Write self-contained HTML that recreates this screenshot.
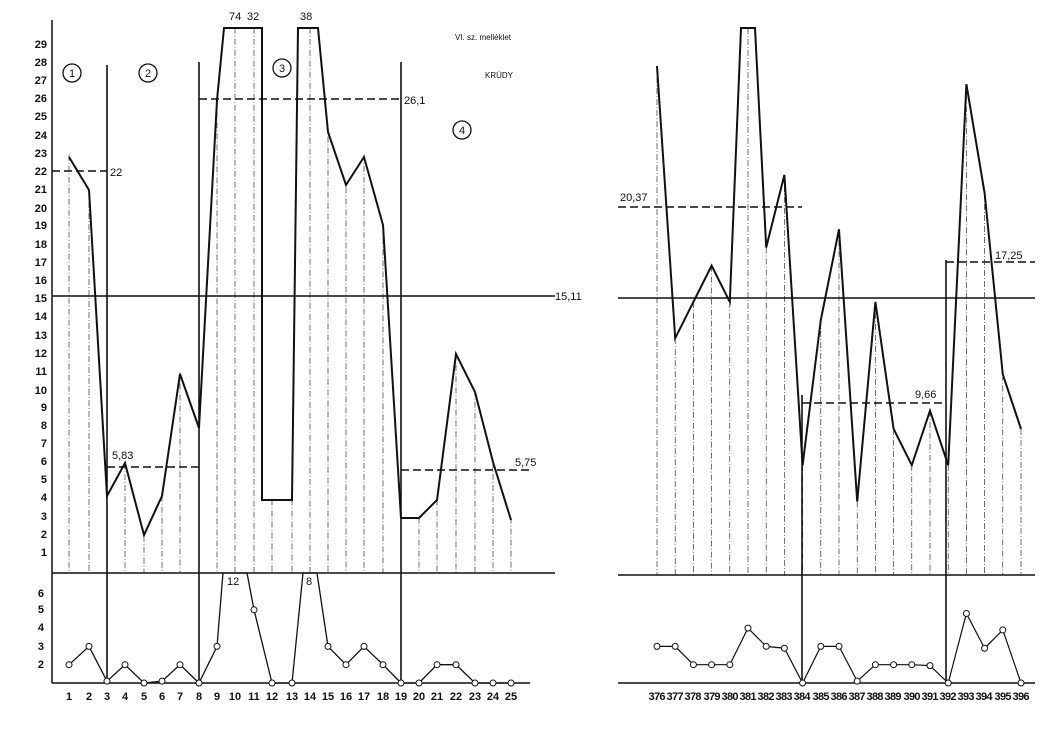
<!DOCTYPE html><html><head><meta charset="utf-8"><style>
body{margin:0;background:#fff;width:1064px;height:726px;overflow:hidden}
svg text{font-family:"Liberation Sans",sans-serif;font-size:11px;fill:#111}
</style></head><body>
<svg id="s" width="1064" height="726" xmlns="http://www.w3.org/2000/svg">
<g font-weight="bold" text-anchor="end">
<text x="47" y="556">1</text><text x="47" y="538">2</text><text x="47" y="520">3</text><text x="47" y="501">4</text><text x="47" y="483">5</text><text x="47" y="465">6</text><text x="47" y="447">7</text><text x="47" y="429">8</text><text x="47" y="411">9</text><text x="47" y="394">10</text><text x="47" y="375">11</text><text x="47" y="357">12</text><text x="47" y="339">13</text><text x="47" y="320">14</text><text x="47" y="302">15</text><text x="47" y="284">16</text><text x="47" y="266">17</text><text x="47" y="248">18</text><text x="47" y="229">19</text><text x="47" y="212">20</text><text x="47" y="193">21</text><text x="47" y="175">22</text><text x="47" y="157">23</text><text x="47" y="139">24</text><text x="47" y="120">25</text><text x="47" y="102">26</text><text x="47" y="84">27</text><text x="47" y="66">28</text><text x="47" y="48">29</text>
<text x="44" y="668">2</text><text x="44" y="650">3</text><text x="44" y="631">4</text><text x="44" y="613">5</text><text x="44" y="597">6</text>
</g>
<g text-anchor="middle" font-weight="bold">
<text x="69" y="700">1</text><text x="89" y="700">2</text><text x="107" y="700">3</text><text x="125" y="700">4</text><text x="144" y="700">5</text><text x="162" y="700">6</text><text x="180" y="700">7</text><text x="199" y="700">8</text><text x="217" y="700">9</text><text x="235" y="700">10</text><text x="254" y="700">11</text><text x="272" y="700">12</text><text x="292" y="700">13</text><text x="310" y="700">14</text><text x="328" y="700">15</text><text x="346" y="700">16</text><text x="364" y="700">17</text><text x="383" y="700">18</text><text x="401" y="700">19</text><text x="419" y="700">20</text><text x="437" y="700">21</text><text x="456" y="700">22</text><text x="475" y="700">23</text><text x="493" y="700">24</text><text x="511" y="700">25</text>
</g>
<g text-anchor="middle" style="font-size:10px" font-weight="bold">
<text x="657" y="700" textLength="17">376</text><text x="675" y="700" textLength="17">377</text><text x="693" y="700" textLength="17">378</text><text x="712" y="700" textLength="17">379</text><text x="730" y="700" textLength="17">380</text><text x="748" y="700" textLength="17">381</text><text x="766" y="700" textLength="17">382</text><text x="784" y="700" textLength="17">383</text><text x="802" y="700" textLength="17">384</text><text x="821" y="700" textLength="17">385</text><text x="839" y="700" textLength="17">386</text><text x="857" y="700" textLength="17">387</text><text x="875" y="700" textLength="17">388</text><text x="893" y="700" textLength="17">389</text><text x="912" y="700" textLength="17">390</text><text x="930" y="700" textLength="17">391</text><text x="948" y="700" textLength="17">392</text><text x="966" y="700" textLength="17">393</text><text x="984" y="700" textLength="17">394</text><text x="1003" y="700" textLength="17">395</text><text x="1021" y="700" textLength="17">396</text>
</g>
<text x="110" y="176">22</text><text x="112" y="459">5,83</text><text x="404" y="104">26,1</text><text x="515" y="466">5,75</text>
<text x="555" y="300">15,11</text>
<text x="229" y="20">74</text><text x="247" y="20">32</text><text x="300" y="20">38</text>
<text x="227" y="585">12</text><text x="306" y="585">8</text>
<text x="620" y="201">20,37</text><text x="915" y="398">9,66</text><text x="995" y="259">17,25</text>
<text x="455" y="40" style="font-size:8px">VI. sz. melléklet</text>
<text x="485" y="78" style="font-size:8px">KRÚDY</text>
<g fill="none" stroke="#111" stroke-width="1.3">
<circle cx="72" cy="73" r="9"/><circle cx="148" cy="73" r="9"/><circle cx="282" cy="68" r="9"/><circle cx="462" cy="130" r="9"/></g>
<text x="72" y="77" text-anchor="middle">1</text><text x="148" y="77" text-anchor="middle">2</text><text x="282" y="72" text-anchor="middle">3</text><text x="462" y="134" text-anchor="middle">4</text>
</svg>
<script>
var s=document.getElementById('s'),NS='http://www.w3.org/2000/svg';
function el(n,a){var e=document.createElementNS(NS,n);for(var k in a)e.setAttribute(k,a[k]);s.appendChild(e);return e}
function ln(x1,y1,x2,y2,w,d){el('line',{x1:x1,y1:y1,x2:x2,y2:y2,stroke:'#111','stroke-width':w||1,'stroke-dasharray':d||''})}
function Y(v){return 572-18.14*v}
function BY(v){return 683-18.3*v}
function RY(v){return 574-18.14*v}
function RBY(v){return 683-18.3*v}
// left
var LX=[69,89,107,125,144,162,180,199,217,235,254,272,292,310,328,346,364,383,401,419,437,456,475,493,511];
var LV=[23,21,4.2,6,2,4.2,11,8,26,30,30,4,4,30,24,21.2,23,19,3,3,4,12,10,6,3];
ln(52,20,52,683,1.5);ln(52,573,555,573,1.5);ln(52,683,530,683,1.5);
ln(52,296,555,296,1.6);
LX.forEach(function(x,i){ln(x,Y(LV[i]),x,573,0.6,'6,2,1,2');});
ln(52,171,107,171,1.5,'8,4');ln(107,467,199,467,1.5,'8,4');ln(199,99,401,99,1.5,'8,4');ln(401,470,530,470,1.5,'8,4');
ln(107,65,107,683,1.6);ln(199,62,199,683,1.6);ln(401,62,401,683,1.6);
el('polyline',{fill:'none',stroke:'#111','stroke-width':2,points:'69,157 89,190 107,496 125,463 144,535 162,496 180,374 199,428 217,100 224,28 262,28 262,500 292,500 298,28 318,28 328,132 346,185 364,157 383,225 401,518 419,518 437,500 456,354 475,392 493,462 511,520'});
var lb=[1,2,0.1,1,0,0.1,1,0,2,null,4,0,0,null,2,1,2,1,0,0,1,1,0,0,0];
var p=[];lb.forEach(function(v,i){if(i==9){p.push('223,573','247,573')}else if(i==13){p.push('303,573','317,573')}else p.push(LX[i]+','+BY(v))});
el('polyline',{fill:'none',stroke:'#111','stroke-width':1.3,points:p.join(' ')});
lb.forEach(function(v,i){if(v!==null)el('circle',{cx:LX[i],cy:BY(v),r:3,fill:'#fff',stroke:'#111','stroke-width':1})});
// right
var RX=[];for(var i=0;i<21;i++)RX.push(657+18.2*i);
ln(618,298,1035,298,1.6);ln(618,575,1035,575,1.5);ln(618,683,1035,683,1.5);
var rv=[28,13,15,17,15,null,18,22,6,14,19,4,15,8,6,9,6,27,21,11,8];
RX.forEach(function(x,i){ln(x,rv[i]===null?28:RY(rv[i]),x,575,0.6,'6,2,1,2');});
ln(618,207,802,207,1.5,'8,4');ln(802,403,946,403,1.5,'8,4');ln(946,262,1035,262,1.5,'8,4');
ln(802,395,802,683,1.6);ln(946,260,946,683,1.6);
var pts=[];rv.forEach(function(v,i){if(v===null){pts.push((RX[i]-7)+',28');pts.push((RX[i]+7)+',28')}else pts.push(RX[i]+','+RY(v))});
el('polyline',{fill:'none',stroke:'#111','stroke-width':2,points:pts.join(' ')});
var rb=[2,2,1,1,1,3,2,1.9,0,2,2,0.1,1,1,1,0.95,0,3.8,1.9,2.9,0];
pts=[];rb.forEach(function(v,i){pts.push(RX[i]+','+RBY(v))});
el('polyline',{fill:'none',stroke:'#111','stroke-width':1.2,points:pts.join(' ')});
rb.forEach(function(v,i){el('circle',{cx:RX[i],cy:RBY(v),r:3,fill:'#fff',stroke:'#111','stroke-width':1})});
</script>
</body></html>
